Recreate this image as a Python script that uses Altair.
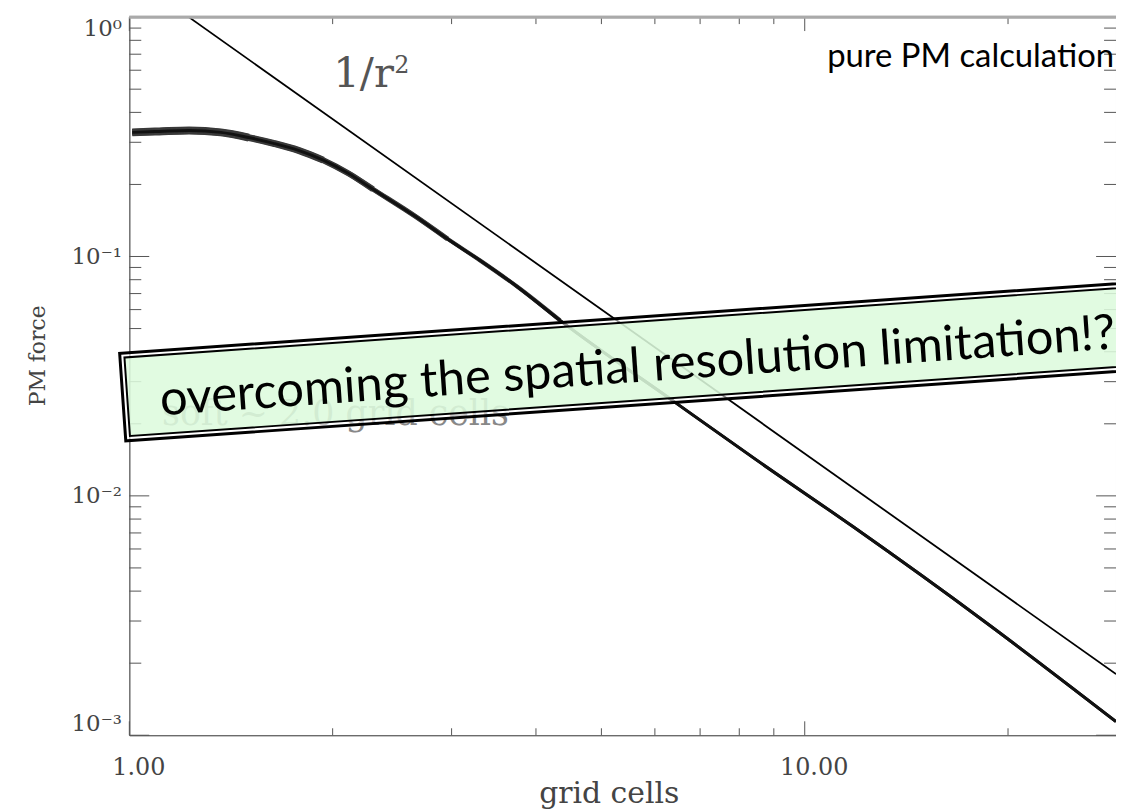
import altair as alt
import pandas as pd

# ---- data ----
r_pm = [1.010, 1.107, 1.226, 1.366, 1.502, 1.635, 1.780, 1.937, 2.109, 2.295,
        2.647, 2.960, 3.311, 3.753, 4.342, 6.413, 8.47, 11.77, 18.48, 28.9]
f_pm = [0.330, 0.333, 0.336, 0.330, 0.314, 0.297, 0.2775, 0.2526, 0.2227, 0.191,
        0.1476, 0.1184, 0.0960, 0.0748, 0.0541, 0.0247, 0.01417, 0.00746, 0.00298, 0.00114]

r_ref = [1.2247, 28.9]
f_ref = [1.0, 0.0018]

x_label_values = [1, 10]
x_minor_ticks = [2, 3, 4, 5, 6, 7, 8, 9, 20]
y_label_values = [0.001, 0.01, 0.1, 1]
y_label_text = ["10\u207b\u00b3", "10\u207b\u00b2", "10\u207b\u00b9", "10\u2070"]
y_minor_ticks = [m * 10.0 ** e for e in (-3, -2, -1) for m in range(2, 10)]

W, H = 992, 722
XS = alt.Scale(type="log", domain=[1, 28.9], nice=False)
YS = alt.Scale(type="log", domain=[0.001, 1], nice=False)
SERIF = "DejaVu Serif"
SANS = "Lato"

pm = pd.DataFrame({"r": r_pm, "f": f_pm})
ref = pd.DataFrame({"r": r_ref, "f": f_ref})

parts = [f"datum.value < {v * 3.1} ? '{t}' : " for v, t in zip(y_label_values[:-1], y_label_text[:-1])]
y_expr = "".join(parts) + f"'{y_label_text[-1]}'"

xaxis = alt.Axis(values=x_label_values, format=".2f", ticks=False, grid=False,
                 domainColor="#555", labelFont=SERIF, labelFontSize=24, labelColor="#444",
                 labelPadding=20, labelFlush=False, labelOffset=9,
                 title="grid cells", titleFont=SERIF, titleFontSize=30,
                 titleFontWeight="normal", titleColor="#444", titlePadding=0, titleX=482)
yaxis = alt.Axis(values=y_label_values, labelExpr=y_expr, ticks=False, grid=False,
                 domainColor="#555", labelFont=SERIF, labelFontSize=23, labelColor="#444",
                 labelPadding=8, labelFlush=True,
                 title="PM force", titleFont=SERIF, titleFontSize=22,
                 titleFontWeight="normal", titleColor="#444", titlePadding=22, titleY=340)

def X():
    return alt.X("r:Q", scale=XS, axis=xaxis)

def Y():
    return alt.Y("f:Q", scale=YS, axis=yaxis)

base_pm = alt.Chart(pm)
def band(width, rmax):
    return base_pm.mark_line(color="#3a3a3a", strokeWidth=width, clip=True,
                             interpolate="monotone").encode(
        x=X(), y=Y()).transform_filter(f"datum.r <= {rmax}")

pm_line = base_pm.mark_line(color="#111", strokeWidth=3, clip=True,
                            interpolate="monotone").encode(x=X(), y=Y())
ref_line = alt.Chart(ref).mark_line(color="#000", strokeWidth=1.8, clip=True).encode(x=X(), y=Y())

def text_layer(txt, r, f, **kw):
    d = pd.DataFrame({"r": [r], "f": [f], "t": [txt]})
    return alt.Chart(d).mark_text(**kw).encode(x=X(), y=Y(), text="t:N")

soft_txt = text_layer("soft ~ 2.0 grid cells", 1.118, 0.0198, font=SERIF, fontSize=35,
                      color="#888", align="left", baseline="alphabetic")
r_txt = text_layer("1/r", 2.004, 0.512, font=SERIF, fontSize=42,
                   color="#555", align="left", baseline="alphabetic")
sq_txt = text_layer("2", 2.467, 0.585, font=SERIF, fontSize=24,
                    color="#555", align="left", baseline="alphabetic")
pure_txt = text_layer("pure PM calculation", 28.71, 0.620, font=SANS, fontSize=33,
                      color="#000", align="right", baseline="alphabetic")

# banner (rotated double-bordered box)
BW = 1100
outer_path = "M-0.9973,-0.0802L0.9973,-0.0802L0.9973,0.0802L-0.9973,0.0802Z"
inner_path = "M-0.9891,-0.0720L0.9891,-0.0720L0.9891,0.0720L-0.9891,0.0720Z"
bc = pd.DataFrame({"r": [6.252], "f": [0.0373]})
banner_outer = alt.Chart(bc).mark_point(shape=outer_path, size=BW * BW, angle=356, filled=True,
                                        fill="white", fillOpacity=0.55, stroke="black",
                                        strokeWidth=3, opacity=1).encode(x=X(), y=Y())
banner_inner = alt.Chart(bc).mark_point(shape=inner_path, size=BW * BW, angle=356, filled=True,
                                        fill="#d6fad6", fillOpacity=0.72, stroke="black",
                                        strokeWidth=2, opacity=1).encode(x=X(), y=Y())
banner_txt = text_layer("overcoming the spatial resolution limitation!?", 5.675, 0.02996,
                        font=SANS, fontSize=49, color="#000", align="center",
                        baseline="alphabetic", angle=356)

# inward ticks
xt_major = pd.DataFrame({"r": x_label_values})
xt_minor = pd.DataFrame({"r": x_minor_ticks})
yt_major = pd.DataFrame({"f": y_label_values})
yt_minor = pd.DataFrame({"f": y_minor_ticks})
TC = "#555"
ticks = [
    alt.Chart(xt_major).mark_rule(color=TC).encode(x=X(), y=alt.value(H), y2=alt.value(H - 14)),
    alt.Chart(xt_minor).mark_rule(color=TC).encode(x=X(), y=alt.value(H), y2=alt.value(H - 7)),
    alt.Chart(xt_major).mark_rule(color=TC).encode(x=X(), y=alt.value(0), y2=alt.value(14)),
    alt.Chart(xt_minor).mark_rule(color=TC).encode(x=X(), y=alt.value(0), y2=alt.value(7)),
    alt.Chart(yt_major).mark_rule(color=TC).encode(y=Y(), x=alt.value(0), x2=alt.value(20)),
    alt.Chart(yt_minor).mark_rule(color=TC).encode(y=Y(), x=alt.value(0), x2=alt.value(12)),
    alt.Chart(yt_major).mark_rule(color=TC).encode(y=Y(), x=alt.value(W), x2=alt.value(W - 20)),
    alt.Chart(yt_minor).mark_rule(color=TC).encode(y=Y(), x=alt.value(W), x2=alt.value(W - 12)),
]
top_line = alt.Chart(xt_major).mark_rule(color="#aaa", strokeWidth=3).encode(
    x=alt.value(0), x2=alt.value(W), y=alt.value(0))

chart = alt.layer(
    pm_line, band(8, 1.6), band(7, 2.0), band(6, 2.6), band(5, 3.3), band(4, 4.5),
    pm_line, ref_line, soft_txt, r_txt, sq_txt,
    *ticks, top_line, banner_outer, banner_inner, banner_txt, pure_txt
).properties(
    width=W, height=H,
    autosize=alt.AutoSizeParams(type="none"),
    padding={"left": 122, "top": 7, "right": 0, "bottom": 75},
    background="white",
).configure_view(stroke="#999", strokeWidth=1)

chart.save("out.html", embed_options={"renderer": "svg", "actions": False})
